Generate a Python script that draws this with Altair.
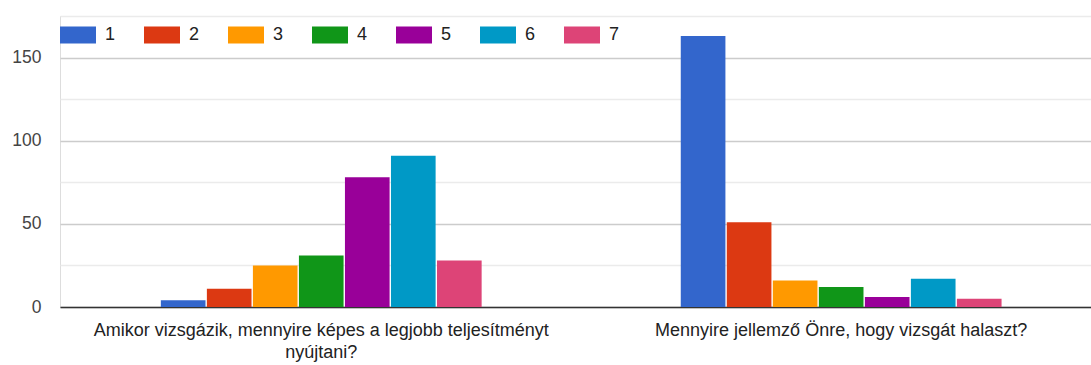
import altair as alt
import pandas as pd

# Survey questions (x categories) and the 1-7 answer scale (series)
questions = [
    "Amikor vizsgázik, mennyire képes a legjobb teljesítményt nyújtani?",
    "Mennyire jellemző Önre, hogy vizsgát halaszt?",
]
question_lines = [
    ["Amikor vizsgázik, mennyire képes a legjobb teljesítményt", "nyújtani?"],
    ["Mennyire jellemző Önre, hogy vizsgát halaszt?"],
]
answers = ["1", "2", "3", "4", "5", "6", "7"]
counts_q1 = [4, 11, 25, 31, 78, 91, 28]
counts_q2 = [163, 51, 16, 12, 6, 17, 5]

palette = ["#3366cc", "#dc3912", "#ff9900", "#109618", "#990099", "#0099c6", "#dd4477"]
y_ticks = [0, 25, 50, 75, 100, 125, 150, 175]

rows = []
for q, counts in zip(questions, [counts_q1, counts_q2]):
    for a, c in zip(answers, counts):
        rows.append({"question": q, "answer": a, "count": c})
df = pd.DataFrame(rows)

# Multi-line axis labels
label_expr = ""
for q, lines in zip(questions, question_lines):
    arr = "[" + ", ".join("'" + s + "'" for s in lines) + "]"
    label_expr += f"datum.label == '{q}' ? {arr} : "
label_expr += "datum.label"

FONT = "Liberation Sans"

chart = (
    alt.Chart(df)
    .mark_bar()
    .encode(
        x=alt.X(
            "question:N",
            sort=questions,
            scale=alt.Scale(paddingInner=0.383, paddingOuter=0.183, align=0.53),
            axis=alt.Axis(
                title=None,
                labelAngle=0,
                labelExpr=label_expr,
                labelFont=FONT,
                labelFontSize=18,
                labelColor="#222222",
                labelLineHeight=22,
                labelPadding=14,
                labelLimit=1000,
                ticks=False,
                domainColor="#333333",
                domainWidth=1.5,
            ),
        ),
        xOffset=alt.XOffset(
            "answer:N", sort=answers, scale=alt.Scale(paddingInner=0.03, paddingOuter=0)
        ),
        y=alt.Y(
            "count:Q",
            scale=alt.Scale(domain=[0, 175], nice=False),
            axis=alt.Axis(
                title=None,
                values=y_ticks,
                labelExpr="datum.value % 50 == 0 ? datum.label : ''",
                labelFont=FONT,
                labelFontSize=17.5,
                labelColor="#444444",
                labelPadding=19,
                ticks=False,
                domain=False,
                gridColor={
                    "condition": {"test": "datum.value % 50 == 0", "value": "#cccccc"},
                    "value": "#ebebeb",
                },
                gridWidth=1.3,
            ),
        ),
        color=alt.Color(
            "answer:N",
            sort=answers,
            scale=alt.Scale(domain=answers, range=palette),
            legend=alt.Legend(
                title=None,
                orient="none",
                legendX=0,
                legendY=1,
                direction="horizontal",
                columns=7,
                symbolType="M-1,-0.47H1V0.47H-1Z",
                symbolSize=1296,
                symbolStrokeWidth=0,
                symbolOpacity=1,
                labelFont=FONT,
                labelFontSize=18,
                labelColor="#222222",
                labelOffset=9,
                columnPadding=28,
                padding=0,
            ),
        ),
    )
    .properties(
        width=1031,
        height=291,
        padding={"left": 60, "top": 16, "right": 0, "bottom": 58},
        autosize=alt.AutoSizeParams(type="none"),
    )
    .configure_view(stroke=None)
    .configure(background="white")
)

chart.save("out.html", embed_options={"renderer": "svg", "actions": False})
